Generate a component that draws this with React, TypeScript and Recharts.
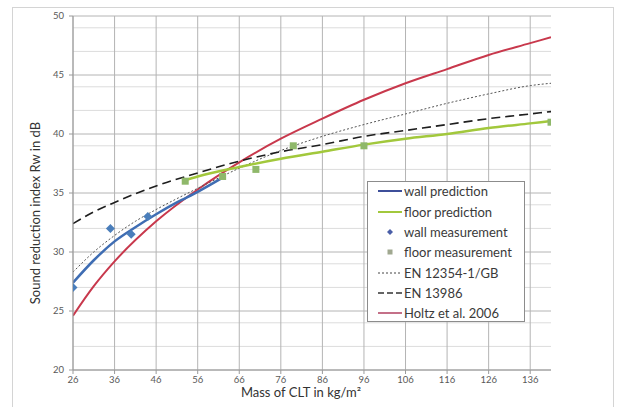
import { ComposedChart, Line, Scatter, XAxis, YAxis, CartesianGrid, Label } from "recharts";

// x ticks (mass) and y ticks (Rw)
const massTicks = [26, 36, 46, 56, 66, 76, 86, 96, 106, 116, 126, 136];
const rwTicks = [20, 25, 30, 35, 40, 45, 50];
const rwMinor = [21, 22, 23, 24, 26, 27, 28, 29, 31, 32, 33, 34, 36, 37, 38, 39, 41, 42, 43, 44, 46, 47, 48, 49];

const seriesNames = [
  "wall prediction",
  "floor prediction",
  "wall measurement",
  "floor measurement",
  "EN 12354-1/GB",
  "EN 13986",
  "Holtz et al. 2006",
];

const wallPrediction = [
  [26, 27.4], [31, 29.3], [36, 30.9], [41, 32.1], [46, 33.2], [51, 34.2], [56, 35.1], [62, 36.3],
];
const floorPrediction = [
  [53, 36.1], [56, 36.4], [66, 37.2], [76, 37.9], [86, 38.5], [96, 39.1],
  [106, 39.6], [116, 40.0], [126, 40.5], [136, 40.9], [141, 41.1],
];
const wallMeasurement = [[26, 27.0], [35, 32.0], [40, 31.5], [44, 33.0]];
const floorMeasurement = [[53, 36.0], [62, 36.4], [70, 37.0], [79, 39.0], [96, 39.0], [141, 41.0]];
const en12354 = [
  [26, 28.3], [31, 30.0], [36, 31.4], [41, 32.6], [46, 33.6], [56, 35.4], [66, 37.1], [76, 38.6],
  [86, 39.8], [96, 40.8], [106, 41.7], [116, 42.6], [126, 43.4], [136, 44.1], [141, 44.3],
];
const en13986 = [
  [26, 32.4], [31, 33.4], [36, 34.2], [46, 35.6], [56, 36.7], [66, 37.7], [76, 38.5],
  [86, 39.1], [96, 39.8], [106, 40.3], [116, 40.8], [126, 41.3], [136, 41.7], [141, 41.9],
];
const holtz2006 = [
  [26, 24.6], [31, 27.1], [36, 29.2], [46, 32.6], [56, 35.3], [66, 37.6], [76, 39.6],
  [86, 41.3], [96, 42.9], [106, 44.3], [116, 45.5], [126, 46.7], [136, 47.7], [141, 48.2],
];

const toRows = (pts: number[][]) => pts.map(([m, r]) => ({ m, r }));

const FONT = "Lato, 'Open Sans', sans-serif";
const BLUE = "#3f6db3";
const GREEN = "#a2c83c";
const RED = "#c8384c";
const MARKER_BLUE = "#4a7ebb";
const MARKER_GREEN = "#8fb86a";

const Diamond = (props: any) => {
  const { cx, cy } = props;
  const s = 4.5;
  return <path d={`M${cx},${cy - s}L${cx + s},${cy}L${cx},${cy + s}L${cx - s},${cy}Z`} fill={MARKER_BLUE} />;
};

const Square = (props: any) => {
  const { cx, cy } = props;
  return <rect x={cx - 3.5} y={cy - 3.5} width={7} height={7} fill={MARKER_GREEN} />;
};

const LegendBox = () => {
  const rowY = [190, 211, 231, 251, 272, 292, 312];
  const sample = (i: number) => {
    const y = rowY[i] - 181;
    switch (i) {
      case 0:
        return <line x1={10} x2={34} y1={y} y2={y} stroke="#3d4f9a" strokeWidth={2} />;
      case 1:
        return <line x1={10} x2={34} y1={y} y2={y} stroke={GREEN} strokeWidth={2} />;
      case 2:
        return <path d={`M22,${y - 3}L25,${y}L22,${y + 3}L19,${y}Z`} fill="#4a5fa8" />;
      case 3:
        return <rect x={19.5} y={y - 2.5} width={5} height={5} fill="#a0a890" />;
      case 4:
        return <line x1={10} x2={34} y1={y} y2={y} stroke="#444" strokeWidth={1} strokeDasharray="2 2" />;
      case 5:
        return <line x1={10} x2={34} y1={y} y2={y} stroke="#333" strokeWidth={1.5} strokeDasharray="6 3" />;
      default:
        return <line x1={10} x2={34} y1={y} y2={y} stroke="#b04060" strokeWidth={1.5} />;
    }
  };
  return (
    <div
      style={{
        position: "absolute",
        left: 367,
        top: 181,
        width: 158,
        height: 141,
        background: "#fff",
        border: "1px solid #8c8c8c",
        boxSizing: "border-box",
      }}
    >
      <svg width={158} height={141} style={{ position: "absolute", left: 0, top: 0 }}>
        {seriesNames.map((name, i) => (
          <g key={name}>
            {sample(i)}
            <text
              x={36}
              y={rowY[i] - 181 + 4.5}
              fontFamily={FONT}
              fontSize={13}
              fill="#3a3a3a"
            >
              {name}
            </text>
          </g>
        ))}
      </svg>
    </div>
  );
};

export default function App() {
  return (
    <div
      style={{
        position: "absolute",
        left: 0,
        top: 0,
        width: 620,
        height: 407,
        overflow: "hidden",
        background: "#fff",
      }}
    >
      <div
        style={{
          position: "absolute",
          left: 12,
          top: 7,
          width: 602,
          height: 420,
          border: "1px solid #d4d4d4",
          boxSizing: "border-box",
        }}
      />
      <div style={{ position: "absolute", left: 0, top: 0 }}>
        <ComposedChart width={620} height={407} margin={{ top: 16, right: 69, bottom: 0, left: 0 }}>
          <CartesianGrid horizontalValues={rwMinor} vertical={false} stroke="#dcdcdc" />
          <CartesianGrid horizontalValues={rwTicks} verticalValues={massTicks} stroke="#b4b4b4" />
          <XAxis
            dataKey="m"
            type="number"
            domain={[26, 141]}
            ticks={massTicks}
            allowDataOverflow
            stroke="#9a9a9a"
            tickSize={4}
            tickMargin={2}
            tick={{ fontSize: 9.5, fill: "#595959", fontFamily: FONT }}
            height={37}
          >
            <Label
              content={() => (
                <text x={301} y={397} textAnchor="middle" fontFamily={FONT} fontSize={13} fill="#333">
                  Mass of CLT in kg/m²
                </text>
              )}
            />
          </XAxis>
          <YAxis
            dataKey="r"
            type="number"
            domain={[20, 50]}
            ticks={rwTicks}
            allowDataOverflow
            stroke="#9a9a9a"
            tickSize={4}
            tickMargin={5}
            tick={{ fontSize: 9.5, fill: "#595959", fontFamily: FONT }}
            width={73}
          >
            <Label
              content={() => (
                <text
                  x={40}
                  y={213}
                  transform="rotate(-90 40 213)"
                  textAnchor="middle"
                  fontFamily={FONT}
                  fontSize={13}
                  fill="#333"
                >
                  Sound reduction index Rw in dB
                </text>
              )}
            />
          </YAxis>
          <Line data={toRows(holtz2006)} dataKey="r" type="monotone" stroke={RED} strokeWidth={2} dot={false} isAnimationActive={false} />
          <Line data={toRows(en12354)} dataKey="r" type="monotone" stroke="#555" strokeWidth={1} strokeDasharray="2 2" dot={false} isAnimationActive={false} />
          <Line data={toRows(en13986)} dataKey="r" type="monotone" stroke="#1e1e1e" strokeWidth={1.6} strokeDasharray="9 5" dot={false} isAnimationActive={false} />
          <Line data={toRows(floorPrediction)} dataKey="r" type="monotone" stroke={GREEN} strokeWidth={2.5} dot={false} isAnimationActive={false} />
          <Line data={toRows(wallPrediction)} dataKey="r" type="monotone" stroke={BLUE} strokeWidth={2.5} dot={false} isAnimationActive={false} />
          <Scatter data={toRows(wallMeasurement)} dataKey="r" shape={Diamond} isAnimationActive={false} />
          <Scatter data={toRows(floorMeasurement)} dataKey="r" shape={Square} isAnimationActive={false} />
        </ComposedChart>
      </div>
      <LegendBox />
    </div>
  );
}
